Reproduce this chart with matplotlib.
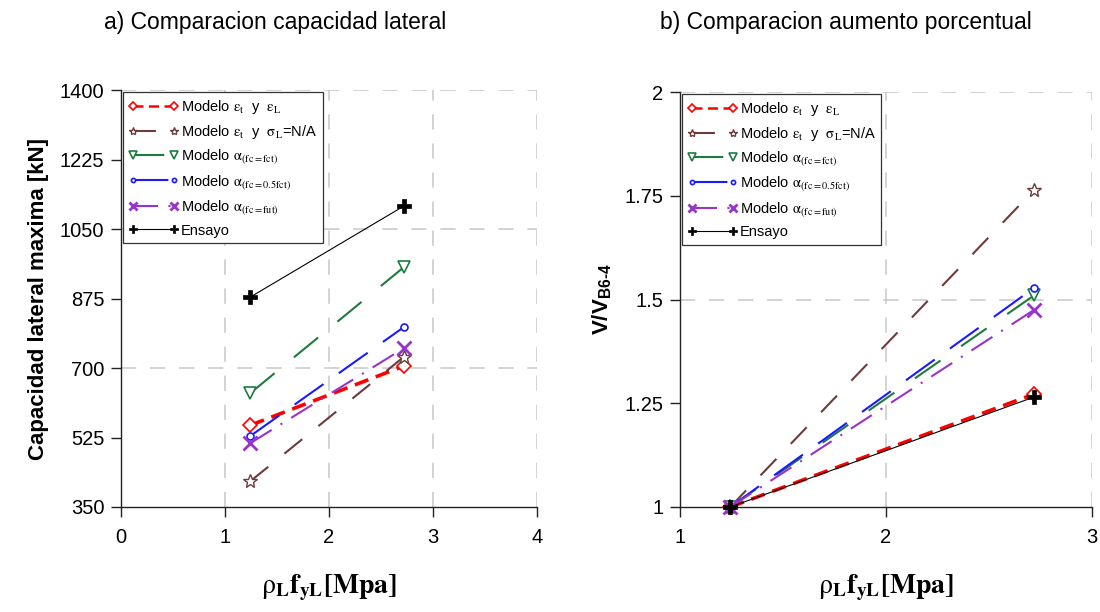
import numpy as np
import matplotlib
matplotlib.use('Agg')
import matplotlib.pyplot as plt

plt.rcParams['font.family'] = ['Liberation Sans', 'DejaVu Sans']
plt.rcParams['mathtext.fontset'] = 'custom'
plt.rcParams['mathtext.rm'] = 'STIXGeneral'
plt.rcParams['mathtext.it'] = 'STIXGeneral:italic'
plt.rcParams['mathtext.bf'] = 'STIXGeneral:bold'
plt.rcParams['mathtext.sf'] = 'Liberation Sans:bold'

# data
x_pts = [1.245, 2.72]

cap_eps = [556, 705]
cap_na = [415, 728]
cap_fct = [637, 954]
cap_05 = [529, 803]
cap_fut = [511, 750]
cap_ens = [879, 1108]

rat_eps = [1.0, 1.272]
rat_na = [1.0, 1.764]
rat_fct = [1.0, 1.51]
rat_05 = [1.0, 1.528]
rat_fut = [1.0, 1.475]
rat_ens = [1.0, 1.265]

labels = [r'Modelo $\mathrm{\varepsilon_t}$  y  $\mathrm{\varepsilon_L}$',
          r'Modelo $\mathrm{\varepsilon_t}$  y  $\mathrm{\sigma_L}$=N/A',
          r'Modelo $\mathrm{\alpha_{(fc=fct)}}$',
          r'Modelo $\mathrm{\alpha_{(fc=0.5fct)}}$',
          r'Modelo $\mathrm{\alpha_{(fc=fut)}}$',
          'Ensayo']

left_ticks_x = [0, 1, 2, 3, 4]
left_ticks_y = [350, 525, 700, 875, 1050, 1225, 1400]
right_ticks_x = [1, 2, 3]
right_ticks_y = [1, 1.25, 1.5, 1.75, 2]

styles = [
    dict(color='#ff0000', lw=2.6, dashes=(4, 2.2), marker='D', ms=7, mfc='white', mew=1.2),
    dict(color='#6e3b3b', lw=1.5, dashes=(11, 10), marker='*', ms=10, mfc='white', mew=1.0),
    dict(color='#1e7b3e', lw=1.5, dashes=(15, 12), marker='v', ms=9, mfc='white', mew=1.2),
    dict(color='#1a1aff', lw=1.5, dashes=(17, 9), marker='o', ms=5, mfc='white', mew=1.2),
    dict(color='#9933cc', lw=1.5, dashes=(12, 5, 1, 5), marker='x', ms=10, mew=2.0),
    dict(color='black', lw=0.8, linestyle='-', marker='P', ms=10, mfc='black', mew=0.5),
]

fig = plt.figure(figsize=(11, 6.12), dpi=100)
ax1 = fig.add_axes([0.110, 0.1716, 0.378, 0.681])
ax2 = fig.add_axes([0.618, 0.1716, 0.3745, 0.678])

grid_kw = dict(color='#c8c8c8', lw=1.1, dashes=(10, 9), zorder=0)


def setup(ax, xt, yt, xg, yg):
    ax.set_xlim(xt[0], xt[-1])
    ax.set_ylim(yt[0], yt[-1])
    ax.set_xticks(xt)
    ax.set_yticks(yt)
    ax.set_xticklabels([str(v) for v in xt])
    ax.set_yticklabels([f'{v:g}' for v in yt])
    for v in xg:
        ax.axvline(v, **grid_kw)
    for v in yg:
        ax.axhline(v, **grid_kw)
    for s in ['top', 'right']:
        ax.spines[s].set_visible(False)
    for s in ['left', 'bottom']:
        ax.spines[s].set_linewidth(1.0)
        ax.spines[s].set_color('#222222')
    ax.tick_params(direction='out', length=7, width=1, labelsize=14.5, pad=5,
                   colors='#222222', labelcolor='black')
    ax.tick_params(axis='x', pad=8)


setup(ax1, left_ticks_x, left_ticks_y, [1, 2, 3, 4], [700, 1050, 1400])
setup(ax2, right_ticks_x, right_ticks_y, [2, 3], [1.5, 2])

for ax, series in [(ax1, [cap_eps, cap_na, cap_fct, cap_05, cap_fut, cap_ens]),
                   (ax2, [rat_eps, rat_na, rat_fct, rat_05, rat_fut, rat_ens])]:
    for i, (vals, st, lab) in enumerate(zip(series, styles, labels)):
        st = dict(st)
        ls = st.pop('linestyle', None)
        d = st.pop('dashes', None)
        if d is not None:
            ax.plot(x_pts, vals, label=lab, dashes=d, zorder=3,
                    clip_on=False, **st)
        else:
            ax.plot(x_pts, vals, label=lab, linestyle=ls, zorder=4,
                    clip_on=False, **st)
    leg = ax.legend(loc='upper left', numpoints=2, fontsize=10.5, handlelength=3.4,
                    handletextpad=0.15, borderaxespad=0.15, labelspacing=0.45,
                    borderpad=0.4, fancybox=False, framealpha=1, edgecolor='#333333',
                    markerscale=0.6)
    leg.get_frame().set_linewidth(0.9)
    for h in leg.get_lines():
        h.set_linewidth(min(h.get_linewidth(), 1.8))

xlab = r'$\mathrm{\rho}_{\mathbf{L}}\mathbf{f_{yL}[Mpa]}$'
ax1.set_xlabel(xlab, fontsize=20, labelpad=18)
ax2.set_xlabel(xlab, fontsize=20, labelpad=18)
ax1.set_ylabel('Capacidad lateral maxima [kN]', fontsize=16, fontweight='bold', labelpad=8)
ax2.set_ylabel('V/V$_{\\mathsf{B6\u20104}}$', fontsize=16, fontweight='bold', labelpad=8)

fig.text(0.25, 0.963, 'a) Comparacion capacidad lateral', fontsize=16.5,
         ha='center', va='center')
fig.text(0.769, 0.963, 'b) Comparacion aumento porcentual', fontsize=16.5,
         ha='center', va='center')

fig.savefig('out.png', dpi=100)
